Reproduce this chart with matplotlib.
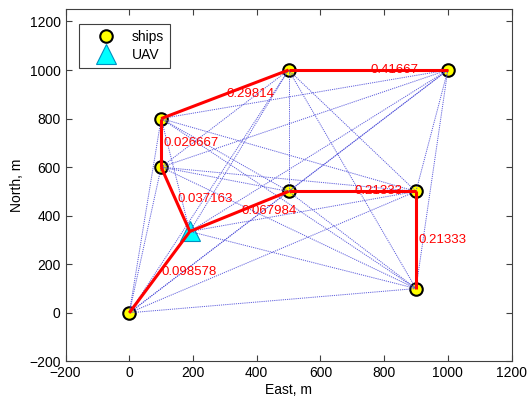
import matplotlib
matplotlib.use("Agg")
import matplotlib.pyplot as plt
import itertools

plt.rcParams['font.family'] = ['Liberation Sans', 'DejaVu Sans']

# Data
ship_x = [0, 100, 100, 500, 1000, 500, 900, 900]
ship_y = [0, 600, 800, 1000, 1000, 500, 500, 100]
uav_x = [190]
uav_y = [335]
# node index 8 = UAV
path_edges = [(0, 8), (8, 1), (1, 2), (2, 3), (3, 4), (8, 5), (5, 6), (6, 7)]
edge_labels = ['0.098578', '0.037163', '0.026667', '0.29814', '0.41667',
               '0.067984', '0.21333', '0.21333']
x_ticks = [-200, 0, 200, 400, 600, 800, 1000, 1200]
y_ticks = [-200, 0, 200, 400, 600, 800, 1000, 1200]

all_x = ship_x + uav_x
all_y = ship_y + uav_y

fig = plt.figure(figsize=(5.29, 4.01), dpi=100)
ax = fig.add_axes([0.124, 0.0988, 0.843, 0.878])

# markers
ships_h, = ax.plot(ship_x, ship_y, 'o', ms=9, mfc='yellow', mec='black', mew=1.5,
                   linestyle='none', zorder=2, label='ships')
uav_h, = ax.plot(uav_x, uav_y, '^', ms=15, mfc='cyan', mec='#0090c0', mew=0.8,
                 linestyle='none', zorder=2, label='UAV')

# complete graph (dotted blue)
for i, j in itertools.combinations(range(len(all_x)), 2):
    ax.plot([all_x[i], all_x[j]], [all_y[i], all_y[j]], color=(0.3, 0.3, 0.85),
            lw=0.7, linestyle=(0, (1.2, 1.0)), alpha=0.9, zorder=3)

# red path
for (i, j), lab in zip(path_edges, edge_labels):
    ax.plot([all_x[i], all_x[j]], [all_y[i], all_y[j]], color='red', lw=2.2,
            solid_capstyle='butt', zorder=4)
    mx = (all_x[i] + all_x[j]) / 2
    my = (all_y[i] + all_y[j]) / 2
    ax.annotate(lab, (mx, my), xytext=(1.5, 0), textcoords='offset points',
                ha='left', va='center', color='red', fontsize=9.5, zorder=5)

ax.set_xlim(-200, 1200)
ax.set_ylim(-200, 1250)
ax.set_xticks(x_ticks)
ax.set_yticks(y_ticks)
ax.tick_params(direction='in', top=True, right=True, length=4, labelsize=10,
               color='#404040', width=0.8)
for s in ax.spines.values():
    s.set_color('#404040')
    s.set_linewidth(0.8)
ax.set_xlabel('East, m', fontsize=10, labelpad=2)
ax.set_ylabel('North, m', fontsize=10, labelpad=4)

leg = ax.legend(handles=[ships_h, uav_h], loc='upper left',
                bbox_to_anchor=(0.031, 0.958), fontsize=10, frameon=True,
                fancybox=False, edgecolor='#404040', framealpha=1,
                handlelength=3.0, handletextpad=0.35, labelspacing=0.3,
                borderpad=0.42, borderaxespad=0)
leg.get_frame().set_linewidth(0.8)

fig.savefig('out.png', dpi=100)
